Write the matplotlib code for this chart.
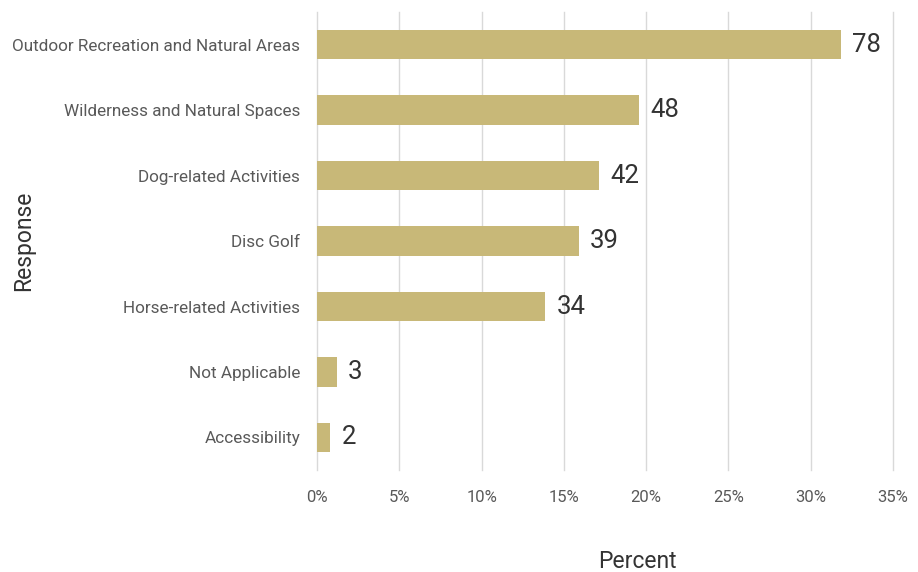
import matplotlib.pyplot as plt
from matplotlib.ticker import FuncFormatter

plt.rcParams["font.family"] = ["Roboto", "DejaVu Sans"]

responses = [
    "Outdoor Recreation and Natural Areas",
    "Wilderness and Natural Spaces",
    "Dog-related Activities",
    "Disc Golf",
    "Horse-related Activities",
    "Not Applicable",
    "Accessibility",
]
counts = [78, 48, 42, 39, 34, 3, 2]
total_respondents = 245
xticks = [0, 5, 10, 15, 20, 25, 30, 35]

BAR_COLOR = "#c8b878"
GRID_COLOR = "#d9d9d9"


def main():
    percents = [100 * c / total_respondents for c in counts]
    ypos = list(range(len(responses)))

    fig = plt.figure(figsize=(9.18, 5.72), dpi=100)
    ax = fig.add_axes([0.3453, 0.178, 0.6275, 0.801])

    ax.barh(ypos, percents, height=0.45, color=BAR_COLOR, zorder=3)
    for y, p, c in zip(ypos, percents, counts):
        ax.annotate(str(c), (p, y), xytext=(8, 0), textcoords="offset points",
                    va="center", ha="left", fontsize=18.5, color="#333333")

    ax.set_ylim(len(responses) - 0.5, -0.5)
    ax.set_xlim(0, 35)
    ax.set_yticks(ypos)
    ax.set_yticklabels(responses)
    ax.set_xticks(xticks)
    ax.xaxis.set_major_formatter(FuncFormatter(lambda v, _: f"{v:.0f}%"))

    ax.tick_params(axis="y", length=0, pad=12, labelsize=12.3, labelcolor="#595959")
    ax.tick_params(axis="x", length=0, pad=14, labelsize=12, labelcolor="#595959")
    ax.grid(axis="x", color=GRID_COLOR, linewidth=1, zorder=0)
    # keep the edge gridlines (0% and 35%) fully drawn
    for gl in ax.get_xgridlines():
        gl.set_clip_on(False)
    for s in ax.spines.values():
        s.set_visible(False)

    ax.set_xlabel("Percent", fontsize=16.5, color="#333333")
    ax.xaxis.set_label_coords(0.557, -0.175)
    ax.set_ylabel("Response", fontsize=16.5, color="#333333")
    ax.yaxis.set_label_coords(-0.49, 0.5)

    fig.savefig("out.png", dpi=100)
    plt.close(fig)


if __name__ == "__main__":
    main()
